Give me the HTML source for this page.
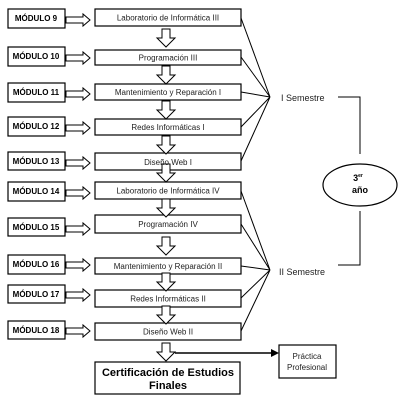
<!DOCTYPE html>
<html><head><meta charset="utf-8"><style>
html,body{margin:0;padding:0;background:#fff;}
svg{display:block;font-family:"Liberation Sans",Arial,sans-serif;}
</style></head><body>
<svg width="400" height="400" viewBox="0 0 400 400" xmlns="http://www.w3.org/2000/svg">
<defs>
<polygon id="ha" points="0,-3 17,-3 17,-6 24,0 17,6 17,3 0,3" fill="#fff" stroke="#000" stroke-width="1"/>
<polygon id="va" points="-4,0 4,0 4,9 9,9 0,18 -9,9 -4,9" fill="#fff" stroke="#000" stroke-width="1"/>
</defs>
<g fill="#fff" stroke="#000" stroke-width="1.2">
<rect x="8" y="9" width="57" height="19"/>
<rect x="8" y="47" width="57" height="19"/>
<rect x="8" y="83" width="57" height="19"/>
<rect x="8" y="117" width="57" height="19"/>
<rect x="8" y="152" width="57" height="18"/>
<rect x="8" y="182" width="57" height="19"/>
<rect x="8" y="218" width="57" height="18"/>
<rect x="8" y="255" width="57" height="19"/>
<rect x="8" y="285" width="57" height="18"/>
<rect x="8" y="321" width="57" height="18"/>
<rect x="95" y="9" width="146" height="17"/>
<rect x="95" y="50" width="146" height="15"/>
<rect x="95" y="84" width="146" height="16"/>
<rect x="95" y="119" width="146" height="16"/>
<rect x="95" y="153" width="146" height="17"/>
<rect x="95" y="182" width="146" height="17"/>
<rect x="95" y="215" width="146" height="18"/>
<rect x="95" y="258" width="146" height="16"/>
<rect x="95" y="290" width="146" height="17"/>
<rect x="95" y="323" width="146" height="17"/>
<rect x="95" y="362" width="145" height="32"/>
<rect x="279" y="345" width="57" height="33"/>
<ellipse cx="360" cy="185" rx="37" ry="21"/>
</g>
<g>
<use href="#ha" x="66" y="20"/><use href="#ha" x="66" y="58"/><use href="#ha" x="66" y="94"/>
<use href="#ha" x="66" y="128"/><use href="#ha" x="66" y="163"/><use href="#ha" x="66" y="193"/>
<use href="#ha" x="66" y="229"/><use href="#ha" x="66" y="265"/><use href="#ha" x="66" y="295"/>
<use href="#ha" x="66" y="331"/>
<use href="#va" x="166" y="29"/><use href="#va" x="166" y="66"/><use href="#va" x="166" y="101"/>
<use href="#va" x="166" y="136"/><use href="#va" x="166" y="164"/><use href="#va" x="166" y="199"/>
<use href="#va" x="166" y="237"/><use href="#va" x="166" y="273"/><use href="#va" x="166" y="306"/>
<use href="#va" x="166" y="343"/>
</g>
<g stroke="#000" stroke-width="1" fill="none">
<path d="M241,18 L270,97 M241,57 L270,97 M241,92 L270,97 M241,127 L270,97 M241,161 L270,97"/>
<path d="M241,191 L270,270 M241,224 L270,270 M241,266 L270,270 M241,298 L270,270 M241,331 L270,270"/>
<path d="M338,97 L360,97 L360,154 M360,211 L360,265 L338,265"/>
<path d="M175,353 L272,353" stroke-width="1.5"/>
</g>
<polygon points="279,353 271,349 271,357" fill="#000"/>
<g font-size="8" font-weight="bold" text-anchor="middle" fill="#000">
<text x="36" y="21">MÓDULO 9</text>
<text x="36" y="59">MÓDULO 10</text>
<text x="36" y="95">MÓDULO 11</text>
<text x="36" y="129">MÓDULO 12</text>
<text x="36" y="164">MÓDULO 13</text>
<text x="36" y="194">MÓDULO 14</text>
<text x="36" y="230">MÓDULO 15</text>
<text x="36" y="267">MÓDULO 16</text>
<text x="36" y="297">MÓDULO 17</text>
<text x="36" y="333">MÓDULO 18</text>
</g>
<g font-size="8" text-anchor="middle" fill="#222">
<text x="168" y="20.5">Laboratorio de Informática III</text>
<text x="168" y="60.5">Programación III</text>
<text x="168" y="95">Mantenimiento y Reparación I</text>
<text x="168" y="130">Redes Informáticas I</text>
<text x="168" y="165">Diseño Web I</text>
<text x="168" y="193.5">Laboratorio de Informática IV</text>
<text x="168" y="227">Programación IV</text>
<text x="168" y="269">Mantenimiento y Reparación II</text>
<text x="168" y="301.5">Redes Informáticas II</text>
<text x="168" y="334.5">Diseño Web II</text>
<text x="307" y="359">Práctica</text>
<text x="307" y="370">Profesional</text>
</g>
<g font-size="11" font-weight="bold" text-anchor="middle" fill="#000">
<text x="168" y="376">Certificación de Estudios</text>
<text x="168" y="389">Finales</text>
</g>
<g font-size="9" fill="#222">
<text x="281" y="101">I Semestre</text>
<text x="279" y="275">II Semestre</text>
</g>
<g font-size="9" font-weight="bold" fill="#000" text-anchor="middle">
<text x="358" y="181">3<tspan font-size="5" dy="-4">er</tspan></text>
<text x="360" y="193">año</text>
</g>
</svg>
</body></html>
